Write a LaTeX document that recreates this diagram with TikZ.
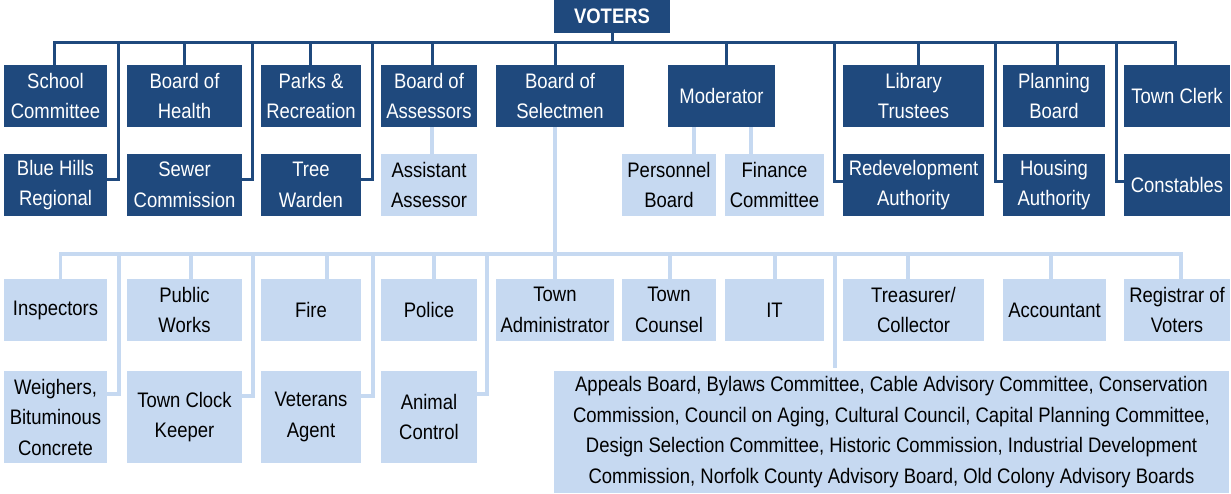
\documentclass[tikz,border=0pt]{standalone}
\usepackage{fontspec}
\setmainfont{Liberation Sans}[FakeStretch=0.88]
\usetikzlibrary{calc}
\definecolor{dblue}{RGB}{31,73,125}
\definecolor{lblue}{RGB}{198,217,241}
\tikzset{
  base/.style={rectangle,inner sep=0pt,align=center,font=\fontsize{21}{30.5}\selectfont},
  dbox/.style={base,fill=dblue,text=white},
  lbox/.style={base,fill=lblue,text=black},
  dline/.style={draw=dblue,line width=3pt},
  lline/.style={draw=lblue,line width=3.5pt},
}
% #1 style, #2 name, #3 x1, #4 x2, #5 y1, #6 y2, #7 text
\newcommand\orgbox[7]{\node[#1,minimum width={(#4)-(#3)},minimum height={(#6)-(#5)}] (#2) at ({((#3)+(#4))/2},{((#5)+(#6))/2}) {#7};}
\begin{document}
\begin{tikzpicture}[x=1pt,y=-1pt]
\useasboundingbox (0,0) rectangle (1231,494);
% top
\orgbox{dbox}{voters}{554}{670}{0}{33}{\bfseries VOTERS}
\orgbox{dbox}{school}{4}{107}{65}{127}{School\\Committee}
\orgbox{dbox}{health}{127}{242}{65}{127}{Board of\\Health}
\orgbox{dbox}{parks}{261}{361}{65}{127}{Parks \&\\Recreation}
\orgbox{dbox}{assess}{381}{477}{65}{127}{Board of\\Assessors}
\orgbox{dbox}{select}{496}{624}{65}{127}{Board of\\Selectmen}
\orgbox{dbox}{moder}{668}{775}{65}{127}{Moderator}
\orgbox{dbox}{library}{843}{984}{65}{127}{Library\\Trustees}
\orgbox{dbox}{planning}{1003}{1105}{65}{127}{Planning\\Board}
\orgbox{dbox}{clerk}{1124}{1230}{65}{127}{Town Clerk}
% second row
\orgbox{dbox}{bluehills}{4}{107}{154}{216}{Blue Hills\\Regional}
\orgbox{dbox}{sewer}{127}{242}{154}{216}{Sewer\\Commission}
\orgbox{dbox}{tree}{261}{361}{154}{216}{Tree\\Warden}
\orgbox{lbox}{asst}{381}{477}{154}{216}{Assistant\\Assessor}
\orgbox{lbox}{personnel}{622}{716}{154}{216}{Personnel\\Board}
\orgbox{lbox}{finance}{725}{824}{154}{216}{Finance\\Committee}
\orgbox{dbox}{redev}{843}{984}{154}{216}{Redevelopment\\Authority}
\orgbox{dbox}{housing}{1003}{1105}{154}{216}{Housing\\Authority}
\orgbox{dbox}{constables}{1124}{1230}{154}{216}{Constables}
% lower row 1
\orgbox{lbox}{inspectors}{4}{107}{279}{341}{Inspectors}
\orgbox{lbox}{public}{127}{242}{279}{341}{Public\\Works}
\orgbox{lbox}{fire}{261}{361}{279}{341}{Fire}
\orgbox{lbox}{police}{381}{477}{279}{341}{Police}
\orgbox{lbox}{townadmin}{496}{614}{279}{341}{Town\\Administrator}
\orgbox{lbox}{counsel}{622}{716}{279}{341}{Town\\Counsel}
\orgbox{lbox}{it}{725}{824}{279}{341}{IT}
\orgbox{lbox}{treasurer}{843}{984}{279}{341}{Treasurer/\\Collector}
\orgbox{lbox}{accountant}{1003}{1106}{279}{341}{Accountant}
\orgbox{lbox}{registrar}{1124}{1230}{279}{341}{Registrar of\\Voters}
% lower row 2
\orgbox{lbox}{weighers}{4}{107}{371}{463}{Weighers,\\Bituminous\\Concrete}
\orgbox{lbox}{clock}{127}{242}{371}{463}{Town Clock\\Keeper}
\orgbox{lbox}{veterans}{261}{361}{371}{463}{Veterans\\Agent}
\orgbox{lbox}{animal}{381}{477}{371}{463}{Animal\\Control}
\orgbox{lbox}{appeals}{554}{1229}{371}{493}{Appeals Board, Bylaws Committee, Cable Advisory Committee, Conservation\\Commission, Council on Aging, Cultural Council, Capital Planning Committee,\\Design Selection Committee, Historic Commission, Industrial Development\\Commission, Norfolk County Advisory Board, Old Colony Advisory Boards}
% bus coordinates
\coordinate (tb) at (0,43);
\coordinate (lb) at (0,254);
% top connectors
\draw[dline] (voters.south) -- (voters.south |- tb);
\draw[dline] ([xshift=-1.5pt]school.north) -- ([xshift=-1.5pt]tb -| school.north)
  -- ([xshift=-2pt]tb -| clerk.north) -- ([xshift=-2pt]clerk.north);
\foreach \n/\s in {health/0,parks/-1,assess/3,select/-5,moder/4.5,library/4.5,planning/3}
  \draw[dline] ([xshift=\s pt]\n.north) -- ([xshift=\s pt]\n.north |- tb);
\foreach \n/\s in {bluehills/11,sewer/10,tree/11}
  \draw[dline] ([yshift=5pt]\n.east) -| ([xshift=\s pt]tb -| \n.east);
\foreach \n/\s in {redev/-8,housing/-7,constables/-7}
  \draw[dline] ([yshift=3pt]\n.west) -| ([xshift=\s pt]tb -| \n.west);
% light connectors
\draw[lline] ([xshift=3pt]assess.south) -- ([xshift=3pt]asst.north);
\draw[lline] ([xshift=-27.5pt]moder.south) -- ([xshift=-27.5pt]moder.south |- personnel.north);
\draw[lline] ([xshift=29.5pt]moder.south) -- ([xshift=29.5pt]moder.south |- finance.north);
\draw[lline] (townadmin.north) -- (townadmin.north |- select.south);
\draw[lline] ([xshift=5pt]inspectors.north) -- ([xshift=5pt]lb -| inspectors.north)
  -- ([xshift=4pt]lb -| registrar.north) -- ([xshift=4pt]registrar.north);
\foreach \n/\s in {public/6.5,fire/16,police/5,counsel/1,it/0.5,treasurer/-5.5,accountant/-3.5}
  \draw[lline] ([xshift=\s pt]\n.north) -- ([xshift=\s pt]\n.north |- lb);
\draw[lline] ([xshift=281pt,yshift=3pt]appeals.north west) -- ([xshift=281pt]appeals.north west |- lb);
\foreach \n/\s/\t in {weighers/12/-23,clock/11/-25,veterans/12/-25,animal/10/-23}
  \draw[lline] ([yshift=\t pt]\n.north east) -| ([xshift=\s pt]lb -| \n.east);
\end{tikzpicture}
\end{document}
